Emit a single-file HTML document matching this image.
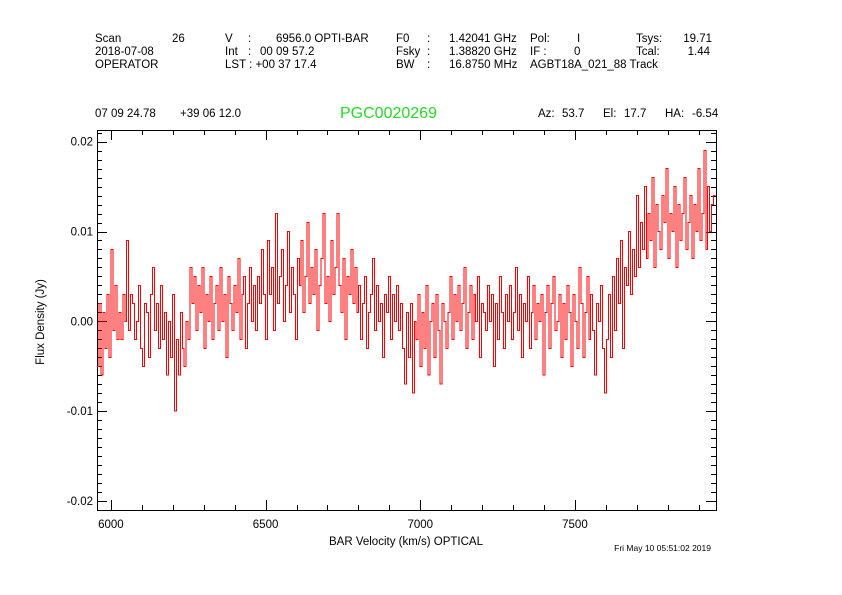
<!DOCTYPE html>
<html><head><meta charset="utf-8">
<style>
body{margin:0;background:#fff;}
svg{display:block;font-family:"Liberation Sans",sans-serif;}
text{fill:#000;font-size:11.5px;}
</style></head>
<body>
<svg id="chart" width="842" height="595" viewBox="0 0 842 595">
<rect width="842" height="595" fill="#fff"/>
<g>
<text x="95" y="42">Scan</text><text x="172" y="42">26</text>
<text x="225" y="42">V</text><text x="248" y="42">:</text><text x="276" y="42">6956.0 OPTI-BAR</text>
<text x="396" y="42">F0</text><text x="427" y="42">:</text><text x="449" y="42">1.42041 GHz</text>
<text x="530" y="42">Pol:</text><text x="577" y="42">I</text>
<text x="636" y="42">Tsys:</text><text x="712" y="42" text-anchor="end">19.71</text>
<text x="95" y="55">2018-07-08</text>
<text x="225" y="55">Int</text><text x="248" y="55">:</text><text x="260" y="55">00 09 57.2</text>
<text x="396" y="55">Fsky</text><text x="427" y="55">:</text><text x="449" y="55">1.38820 GHz</text>
<text x="530" y="55">IF :</text><text x="574" y="55">0</text>
<text x="636" y="55">Tcal:</text><text x="710" y="55" text-anchor="end">1.44</text>
<text x="95" y="68">OPERATOR</text>
<text x="225" y="68">LST : +00 37 17.4</text>
<text x="396" y="68">BW</text><text x="427" y="68">:</text><text x="449" y="68">16.8750 MHz</text>
<text x="530" y="68">AGBT18A_021_88 Track</text>
<text x="95" y="117">07 09 24.78</text><text x="180" y="117">+39 06 12.0</text>
<text x="340" y="118" style="font-size:16px;fill:#22dd22">PGC0020269</text>
<text x="538" y="117">Az:</text><text x="562" y="117">53.7</text>
<text x="603" y="117">El:</text><text x="624" y="117">17.7</text>
<text x="665" y="117">HA:</text><text x="692" y="117">-6.54</text>
</g>
<g id="axes"></g>
<path id="series" fill="none" stroke="#ff0000" stroke-width="1" shape-rendering="crispEdges"/>
<text x="406" y="545" text-anchor="middle">BAR Velocity (km/s) OPTICAL</text>
<text transform="translate(44,322) rotate(-90)" text-anchor="middle">Flux Density (Jy)</text>
<text x="711" y="551" text-anchor="end" style="font-size:8.5px">Fri May 10 05:51:02 2019</text>
</svg>
<script>
const xTicks=[6000,6500,7000,7500];
const xTickLabels=["6000","6500","7000","7500"];
const yTicks=[-0.02,-0.01,0,0.01,0.02];
const yTickLabels=["-0.02","-0.01","0.00","0.01","0.02"];
const vStart=5955, vStep=6.41;
const fluxMJy=[-5,2,-6,1,-3,3,-4,8,-1,4,-2,
1,-2,3,0,9,-1,3,2,-2,0,4,-3,-5,2,1,-4,3,6,-1,2,-3,4,-2,1,-6,0,-4,3,
-10,-2,-6,1,-3,-5,0,-2,
6,2,5,-1,4,1,6,-3,3,0,5,-2,2,4,-1,6,0,3,-4,5,2,-1,4,1,7,-2,3,5,-3,2,6,0,4,-1,5,2,8,3,-2,
9,3,6,-1,12,2,5,8,0,4,10,1,6,3,-2,7,4,9,1,5,11,2,6,3,8,-1,4,7,12,2,5,0,9,3,6,12,4,1,7,-2,5,3,8,2,6,1,
4,-2,2,5,-3,1,3,7,-1,4,0,2,-4,3,1,5,-2,3,0,4,-1,2,-3,
-7,1,-4,2,-8,0,-2,3,-5,1,-3,4,-6,0,2,-4,3,-1,-7,2,0,-3,1,
5,-2,3,0,4,-1,2,6,-3,1,4,-2,3,0,5,-4,2,1,-1,4,0,3,-5,2,-2,5,1,-3,3,0,4,-2,1,6,-1,3,-4,2,0,5,-3,1,4,-2,2,0,3,-6,1,4,-3,2,5,-1,0,3,-4,2,-2,4,1,-5,3,0,-3,6,2,-4,1,5,-2,3,-1,-6,2,0,4,-3,
-8,-2,3,-4,5,-1,7,2,9,-3,6,4,10,3,8,5,
14,6,11,8,15,7,12,9,16,6,13,10,8,14,11,17,7,12,10,15,6,13,9,12,16,8,11,14,7,13,10,17,9,12,19,8,15,10,13,14];
const L=97,R=716,T=130,B=510;
const xMin=5955,xMax=7956,yMin=-0.0210,yMax=0.0213;
const X=v=>L+(v-xMin)/(xMax-xMin)*(R-L);
const Y=f=>B-(f-yMin)/(yMax-yMin)*(B-T);
const NS="http://www.w3.org/2000/svg";
const ax=document.getElementById('axes');
function line(x1,y1,x2,y2,name){const l=document.createElementNS(NS,'line');
l.setAttribute('x1',x1);l.setAttribute('y1',y1);l.setAttribute('x2',x2);l.setAttribute('y2',y2);
l.setAttribute('stroke','#000');l.setAttribute('stroke-width','1');


ax.appendChild(l);}
function txt(x,y,s,anchor,name){const t=document.createElementNS(NS,'text');
t.setAttribute('x',x);t.setAttribute('y',y);t.setAttribute('text-anchor',anchor);t.textContent=s;


ax.appendChild(t);}
const fr=document.createElementNS(NS,'rect');
fr.setAttribute('x',L+.5);fr.setAttribute('y',T+.5);fr.setAttribute('width',R-L);fr.setAttribute('height',B-T);
fr.setAttribute('fill','none');fr.setAttribute('stroke','#000');


ax.appendChild(fr);
for(let v=6000;v<=xMax;v+=100){const x=Math.round(X(v))+.5;const maj=(v%500===0);const h=maj?10:5;
line(x,B,x,B-h,'x-tick');line(x,T,x,T+h,'x-tick');}
xTicks.forEach((v,i)=>txt(X(v),528,xTickLabels[i],'middle','x-tick-label'));
for(let k=-20;k<=21;k++){const f=k*0.001;if(f<yMin||f>yMax)continue;const y=Math.round(Y(f))+.5;const maj=(k%10===0);const h=maj?10:5;
line(L,y,L+h,y,'y-tick');line(R,y,R-h,y,'y-tick');}
yTicks.forEach((f,i)=>txt(93,Y(f)+4,yTickLabels[i],'end','y-tick-label'));
let d='';
fluxMJy.forEach((m,i)=>{const x0=X(vStart+i*vStep),x1=X(vStart+(i+1)*vStep);const y=Y(m/1000);
d+=(i===0?'M':'L')+x0.toFixed(1)+','+y.toFixed(1)+'L'+Math.min(x1,R).toFixed(1)+','+y.toFixed(1);});
document.getElementById('series').setAttribute('d',d);
</script>
</body></html>
